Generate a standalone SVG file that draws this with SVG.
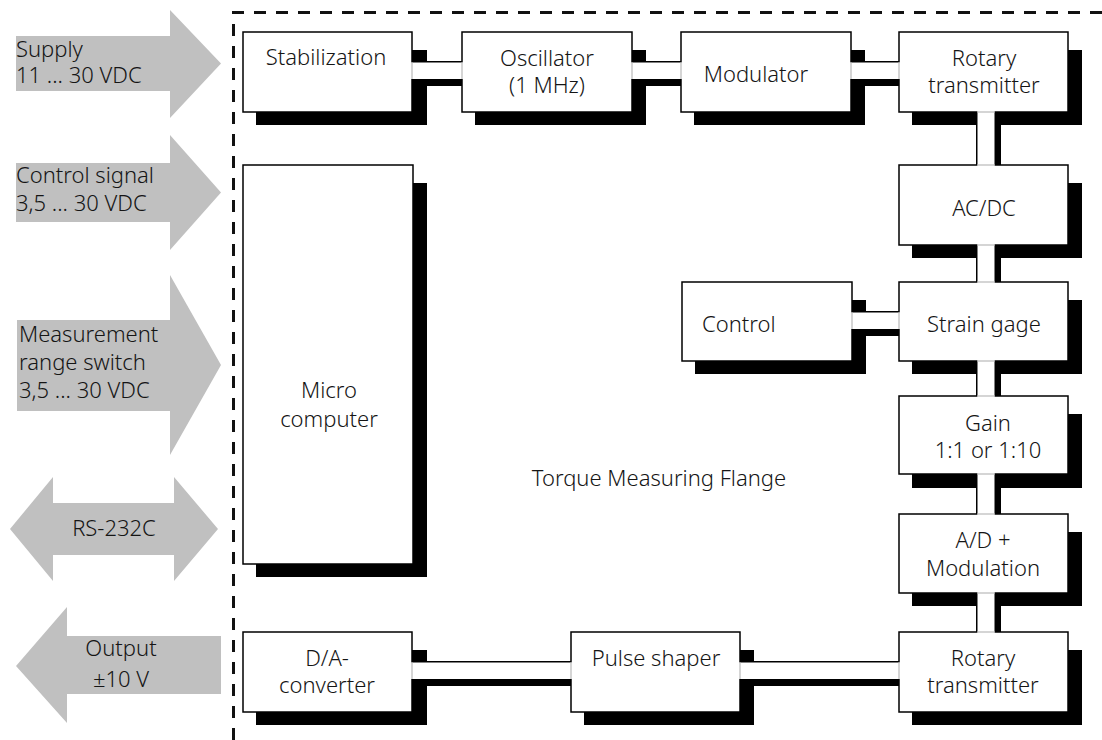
<svg xmlns="http://www.w3.org/2000/svg" width="1102" height="740" viewBox="0 0 1102 740">
<style>
text{font-family:"Noto Sans","Open Sans","DejaVu Sans",sans-serif;font-size:22px;font-weight:300;fill:#151515}
.c{text-anchor:middle}
.arrow{fill:#c0c0c0}
.box{fill:#fff;stroke:#000;stroke-width:1.5}
.sh{fill:#000}
.pipe{fill:#000}
.hole{fill:#fff}
.edge{stroke:#c8c8c8;stroke-width:1.5}
</style>
<rect width="1102" height="740" fill="#fff"/>
<g id="frame">
<path d="M233.5 740 V12.5 H1102" fill="none" stroke="#111" stroke-width="3" stroke-dasharray="12 10"/>
</g>
<g id="in-supply">
<polygon class="arrow" points="16,36 170,36 170,10 221,63.5 170,118 170,91 16,91"/>
<text x="16" y="57">Supply</text>
<text x="16" y="83">11 ... 30 VDC</text>
</g>
<g id="in-control">
<polygon class="arrow" points="16,163 170,163 170,135 221,192.5 170,250 170,222 16,222"/>
<text x="16" y="183">Control signal</text>
<text x="16" y="211">3,5 ... 30 VDC</text>
</g>
<g id="in-range">
<polygon class="arrow" points="17,320 170,320 170,275 221,365 170,455 170,411 17,411"/>
<text x="19" y="342">Measurement</text>
<text x="19" y="370">range switch</text>
<text x="19" y="398">3,5 ... 30 VDC</text>
</g>
<g id="io-rs232">
<polygon class="arrow" points="10,529 53,477 53,503 174,503 174,477 218,529 174,581 174,555 53,555 53,581"/>
<text class="c" x="114" y="536">RS-232C</text>
</g>
<g id="out-output">
<polygon class="arrow" points="16,666 67,607 67,636 221,636 221,694 67,694 67,723"/>
<text class="c" x="121" y="656">Output</text>
<text class="c" x="121" y="687">±10 V</text>
</g>
<g id="stabilization">
<rect class="sh" x="256" y="50" width="171" height="75"/>
<rect class="box" x="243" y="32" width="169" height="80"/>
<text class="c" x="326" y="65">Stabilization</text>
</g>
<g id="oscillator">
<rect class="sh" x="475" y="50" width="171" height="75"/>
<rect class="box" x="462" y="32" width="170" height="80"/>
<text class="c" x="547" y="66">Oscillator</text>
<text class="c" x="547" y="93">(1 MHz)</text>
</g>
<g id="modulator">
<rect class="sh" x="694" y="50" width="171" height="75"/>
<rect class="box" x="681" y="32" width="170" height="80"/>
<text class="c" x="756" y="82">Modulator</text>
</g>
<g id="rotary-top">
<rect class="sh" x="912" y="50" width="170" height="75"/>
<rect class="box" x="899" y="32" width="169" height="80"/>
<text class="c" x="984" y="66">Rotary</text>
<text class="c" x="984" y="93">transmitter</text>
</g>
<g id="microcomputer">
<rect class="sh" x="256" y="183" width="171" height="394"/>
<rect class="box" x="243" y="165" width="170" height="399"/>
<text class="c" x="329" y="398">Micro</text>
<text class="c" x="329" y="427">computer</text>
</g>
<g id="acdc">
<rect class="sh" x="912" y="183" width="170" height="75"/>
<rect class="box" x="899" y="165" width="169" height="80"/>
<text class="c" x="984" y="216">AC/DC</text>
</g>
<g id="control">
<rect class="sh" x="695" y="300" width="171" height="74"/>
<rect class="box" x="682" y="282" width="170" height="79"/>
<text x="702" y="332">Control</text>
</g>
<g id="strain-gage">
<rect class="sh" x="912" y="300" width="170" height="74"/>
<rect class="box" x="899" y="282" width="169" height="79"/>
<text class="c" x="984" y="332">Strain gage</text>
</g>
<g id="gain">
<rect class="sh" x="912" y="414" width="170" height="74"/>
<rect class="box" x="899" y="396" width="169" height="78"/>
<text class="c" x="988" y="431">Gain</text>
<text class="c" x="988" y="458">1:1 or 1:10</text>
</g>
<g id="ad-modulation">
<rect class="sh" x="912" y="532" width="170" height="74"/>
<rect class="box" x="899" y="514" width="169" height="79"/>
<text class="c" x="983" y="548">A/D +</text>
<text class="c" x="983" y="576">Modulation</text>
</g>
<g id="rotary-bottom">
<rect class="sh" x="912" y="650" width="170" height="75"/>
<rect class="box" x="899" y="632" width="169" height="80"/>
<text class="c" x="983" y="666">Rotary</text>
<text class="c" x="983" y="693">transmitter</text>
</g>
<g id="pulse-shaper">
<rect class="sh" x="584" y="650" width="170" height="75"/>
<rect class="box" x="571" y="632" width="169" height="80"/>
<text class="c" x="656" y="666">Pulse shaper</text>
</g>
<g id="da-converter">
<rect class="sh" x="256" y="650" width="171" height="75"/>
<rect class="box" x="243" y="632" width="169" height="80"/>
<text class="c" x="327" y="666">D/A-</text>
<text class="c" x="327" y="693">converter</text>
</g>
<g id="label">
<text class="c" x="659" y="486">Torque Measuring Flange</text>
</g>
<g id="connectors">
<rect class="pipe" x="412" y="61" width="50" height="25"/><rect class="hole" x="411" y="62.5" width="52" height="16.5"/>
<rect class="pipe" x="632" y="61" width="49" height="25"/><rect class="hole" x="631" y="62.5" width="51" height="16.5"/>
<rect class="pipe" x="851" y="61" width="48" height="25"/><rect class="hole" x="850" y="62.5" width="50" height="16.5"/>
<rect class="pipe" x="852" y="311" width="47" height="25"/><rect class="hole" x="851" y="312.5" width="49" height="16.5"/>
<rect class="pipe" x="412" y="661" width="159" height="25"/><rect class="hole" x="411" y="662.5" width="161" height="16.5"/>
<rect class="pipe" x="740" y="661" width="159" height="25"/><rect class="hole" x="739" y="662.5" width="161" height="16.5"/>
<rect class="pipe" x="976" y="112" width="25" height="53"/><rect class="hole" x="977.5" y="111" width="17" height="55"/>
<rect class="pipe" x="976" y="245" width="25" height="37"/><rect class="hole" x="977.5" y="244" width="17" height="39"/>
<rect class="pipe" x="976" y="361" width="25" height="35"/><rect class="hole" x="977.5" y="360" width="17" height="37"/>
<rect class="pipe" x="976" y="474" width="25" height="40"/><rect class="hole" x="977.5" y="473" width="17" height="42"/>
<rect class="pipe" x="976" y="593" width="25" height="39"/><rect class="hole" x="977.5" y="592" width="17" height="41"/>
<path class="edge" d="M412 62.5V79 M462 62.5V79 M632 62.5V79 M681 62.5V79 M851 62.5V79 M899 62.5V79 M852 312.5V329 M899 312.5V329 M412 662.5V679 M571 662.5V679 M740 662.5V679 M899 662.5V679 M977.5 112H994.5 M977.5 165H994.5 M977.5 245H994.5 M977.5 282H994.5 M977.5 361H994.5 M977.5 396H994.5 M977.5 474H994.5 M977.5 514H994.5 M977.5 593H994.5 M977.5 632H994.5"/>
</g>
</svg>
